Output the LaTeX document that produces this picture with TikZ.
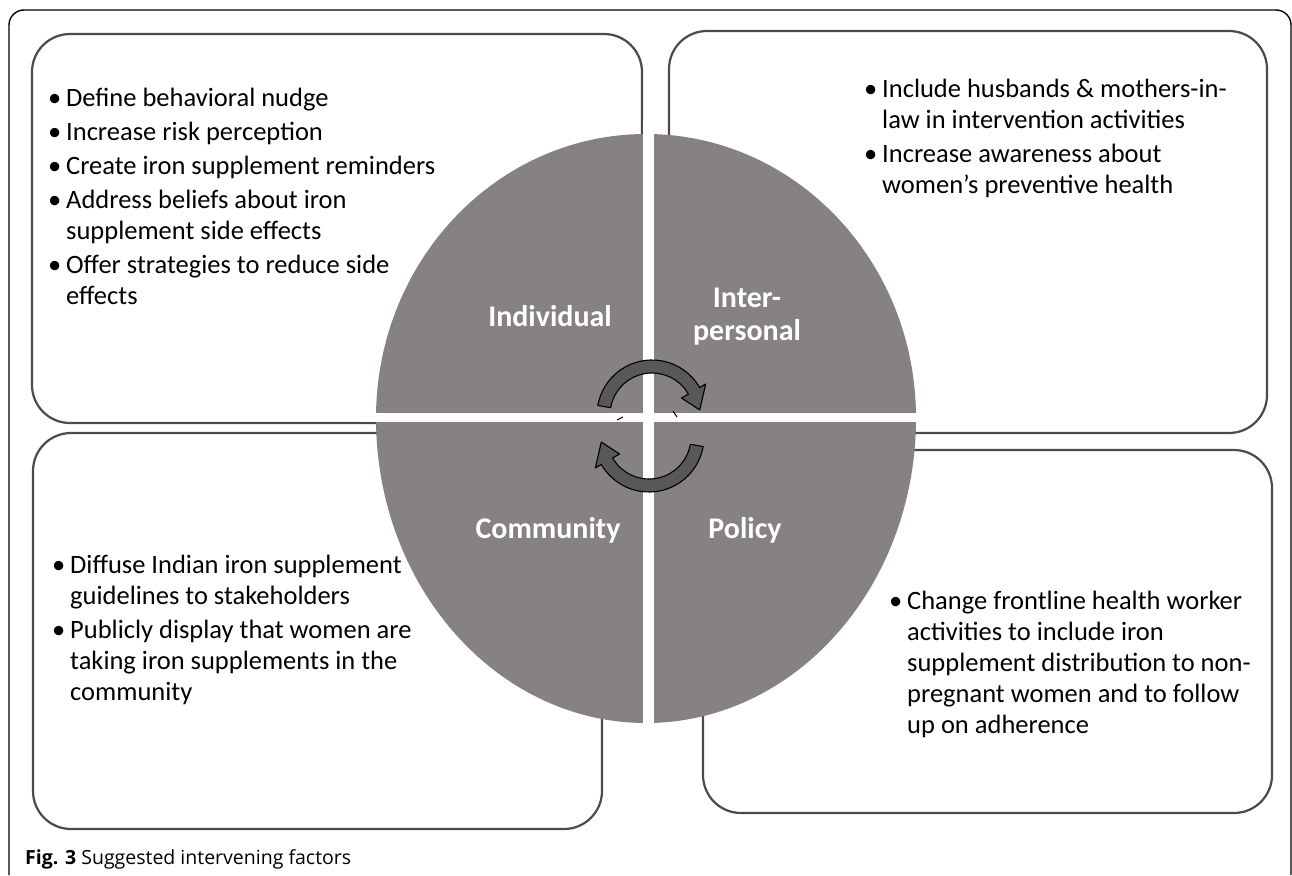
\documentclass[tikz,border=0pt]{standalone}
\usepackage{fontspec}
\setmainfont{Carlito}
\newfontfamily\capfont{Open Sans}
\definecolor{quad}{RGB}{134,130,129}
\definecolor{arrowfill}{RGB}{88,88,88}
\definecolor{boxline}{RGB}{75,75,75}
\tikzset{
  boxst/.style={draw=boxline, line width=2.2pt, rounded corners=38pt, inner sep=0pt},
  framest/.style={draw=black, line width=1.4pt, rounded corners=15pt},
  arrowst/.style={fill=arrowfill, draw=black, line width=1.1pt, line join=round},
  listst/.style={anchor=base west, inner sep=0pt, text=black, font=\fontsize{26.5}{31}\selectfont},
  labelst/.style={text=white, font=\fontsize{30}{33}\selectfont\bfseries, align=center, inner sep=0pt}
}
\newcommand{\bul}{\textbullet}
\begin{document}
\begin{tikzpicture}[x=1pt,y=-1pt]
\useasboundingbox (0,0) rectangle (1292,875);
\fill[white] (0,0) rectangle (1292,875);
% outer frame
\coordinate (fa) at (9,875);
\coordinate (fb) at (9,10);
\coordinate (fc) at (1291,10);
\coordinate (fd) at (1291,875);
\draw[framest] (fa) -- (fb) -- (fc) -- (fd);
% boxes
\node[boxst, minimum width=610pt, minimum height=389pt] (tl) at (337,228.5) {};
\node[boxst, minimum width=598pt, minimum height=402pt] (tr) at (968,232) {};
\node[boxst, minimum width=569pt, minimum height=396pt] (bl) at (317.5,631) {};
\node[boxst, minimum width=569pt, minimum height=363pt] (br) at (987.5,631.5) {};
% circle
\begin{scope}
\path[fill=quad] (376,418) arc[start angle=180, end angle=360, x radius=270, y radius=284]
   arc[start angle=0, end angle=180, x radius=270, y radius=305] -- cycle;
\fill[white] (643,120) rectangle (654,740);
\fill[white] (360,413) rectangle (930,422);
\end{scope}
% arrows
\draw[arrowst, shift={(652,415)}] (190:55) arc[start angle=190, end angle=330, radius=55]
  -- (330:62) -- (354:48) -- (330:34) -- (330:42)
  arc[start angle=330, end angle=190, radius=42] -- cycle;
\draw[arrowst, shift={(649,437)}] (10:55) arc[start angle=10, end angle=150, radius=55]
  -- (150:62) -- (174:48) -- (150:34) -- (150:42)
  arc[start angle=150, end angle=10, radius=42] -- cycle;
% small ticks
\coordinate (ta1) at (617,420); \coordinate (ta2) at (623,417);
\coordinate (tb1) at (673,411); \coordinate (tb2) at (677,417);
\draw[black, line width=1pt] (ta1) -- (ta2);
\draw[black, line width=1pt] (tb1) -- (tb2);
% labels
\node[labelst] (lind) at (550,316) {Individual};
\node[labelst] (linter) at (747,317) {Inter-\\personal};
\node[labelst] (lcom) at (548,530) {Community};
\node[labelst] (lpol) at (745,530) {Policy};
% lists
\node[listst] (ttl) at (48,106.5) {\begin{tabular}[t]{@{}p{18pt}@{}l@{}}
\bul & Define behavioral nudge\\[3pt]
\bul & Increase risk perception\\[3pt]
\bul & Create iron supplement reminders\\[3pt]
\bul & Address beliefs about iron\\
 & supplement side effects\\[3pt]
\bul & Offer strategies to reduce side\\
 & effects
\end{tabular}};
\node[listst] (ttr) at (864,97.5) {\begin{tabular}[t]{@{}p{18pt}@{}l@{}}
\bul & Include husbands \& mothers-in-\\
 & law in intervention activities\\[3pt]
\bul & Increase awareness about\\
 & women’s preventive health
\end{tabular}};
\node[listst] (tbl) at (52,573.5) {\begin{tabular}[t]{@{}p{18pt}@{}l@{}}
\bul & Diffuse Indian iron supplement\\
 & guidelines to stakeholders\\[3pt]
\bul & Publicly display that women are\\
 & taking iron supplements in the\\
 & community
\end{tabular}};
\node[listst] (tbr) at (889,609.5) {\begin{tabular}[t]{@{}p{18pt}@{}l@{}}
\bul & Change frontline health worker\\
 & activities to include iron\\
 & supplement distribution to non-\\
 & pregnant women and to follow\\
 & up on adherence
\end{tabular}};
% caption
\node[anchor=base west, inner sep=0pt, font=\capfont\fontsize{19.5}{22}\selectfont] (cap) at (25,864) {\textbf{Fig. 3} Suggested intervening factors};
\end{tikzpicture}
\end{document}
